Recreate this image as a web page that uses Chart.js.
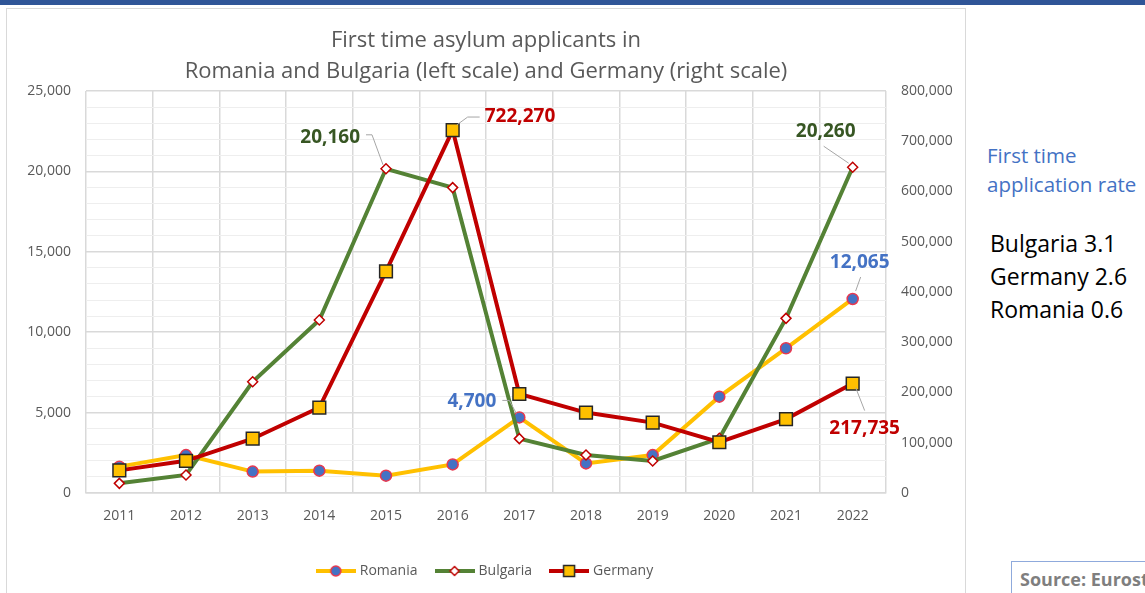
<!DOCTYPE html>
<html>
<head>
<meta charset="utf-8">
<title>First time asylum applicants</title>
<script src="https://cdn.jsdelivr.net/npm/chart.js@4/dist/chart.umd.min.js"></script>
<style>
  body { margin: 0; background: #fff; font-family: "Open Sans", sans-serif; overflow: hidden; }
  #topbar { position: absolute; left: 0; top: 0; width: 1145px; height: 5px; background: #2f5597; }
  #card { position: absolute; left: 6px; top: 8px; width: 958px; height: 600px; border: 1px solid #d9d9d9; background: #fff; }
  #card canvas { position: absolute; left: 0; top: 0; }
  .note { position: absolute; white-space: nowrap; }
  #rateTitle { left: 987px; top: 141px; color: #4472c4; font-size: 20.5px; line-height: 29px; }
  #rates { left: 990px; top: 227px; color: #000; font-size: 23px; line-height: 33px; }
  #source { position: absolute; left: 1011px; top: 561px; width: 170px; height: 40px; border: 1px solid #8faadc;
            color: #7f7f7f; font-weight: bold; font-size: 18px; line-height: 24px; padding: 5px 0 0 8px; box-sizing: border-box; }
</style>
</head>
<body>
<div id="topbar"></div>
<div id="card"><canvas id="asylum" width="958" height="600"></canvas></div>
<div class="note" id="rateTitle">First time<br>application rate</div>
<div class="note" id="rates">Bulgaria 3.1<br>Germany 2.6<br>Romania 0.6</div>
<div id="source">Source: Eurostat</div>

<script>
// first time asylum applicants per year
var years = ['2011', '2012', '2013', '2014', '2015', '2016', '2017', '2018', '2019', '2020', '2021', '2022'];
var romania = [1640, 2360, 1330, 1390, 1080, 1780, 4700, 1840, 2360, 5990, 9000, 12065];
var bulgaria = [600, 1120, 6920, 10760, 20160, 18990, 3380, 2360, 1990, 3400, 10860, 20260];
var germany = [45000, 64000, 108000, 170000, 441000, 722270, 197000, 160000, 140000, 101000, 147000, 217735];

// legend swatch: a short line with the marker on it
function swatch(lineColor, draw) {
  var c = document.createElement('canvas');
  c.width = 40;
  c.height = 16;
  var g = c.getContext('2d');
  g.strokeStyle = lineColor;
  g.lineWidth = 4;
  g.beginPath();
  g.moveTo(0, 8);
  g.lineTo(40, 8);
  g.stroke();
  draw(g);
  return c;
}

var romaniaKey = swatch('#ffc000', function (g) {
  g.beginPath();
  g.arc(20, 8, 5, 0, Math.PI * 2);
  g.fillStyle = '#4472c4';
  g.fill();
  g.lineWidth = 1.5;
  g.strokeStyle = '#e8384f';
  g.stroke();
});
var bulgariaKey = swatch('#548235', function (g) {
  g.beginPath();
  g.moveTo(20, 3.5);
  g.lineTo(24.5, 8);
  g.lineTo(20, 12.5);
  g.lineTo(15.5, 8);
  g.closePath();
  g.fillStyle = '#fff';
  g.fill();
  g.lineWidth = 1.5;
  g.strokeStyle = '#c00000';
  g.stroke();
});
var germanyKey = swatch('#c00000', function (g) {
  g.fillStyle = '#ffc000';
  g.fillRect(14.5, 2.5, 11, 11);
  g.lineWidth = 1.5;
  g.strokeStyle = '#262626';
  g.strokeRect(14.5, 2.5, 11, 11);
});

// value labels with grey leader lines, offsets relative to the point
var callouts = {
  id: 'callouts',
  afterDatasetsDraw: function (chart, args, opts) {
    var ctx = chart.ctx;
    opts.items.forEach(function (c) {
      var pt = chart.getDatasetMeta(c.dataset).data[c.index];
      var value = chart.data.datasets[c.dataset].data[c.index];
      ctx.save();
      ctx.strokeStyle = '#a6a6a6';
      ctx.lineWidth = 1;
      ctx.beginPath();
      c.leader.forEach(function (p, k) {
        if (k === 0) ctx.moveTo(pt.x + p[0], pt.y + p[1]);
        else ctx.lineTo(pt.x + p[0], pt.y + p[1]);
      });
      ctx.stroke();
      ctx.font = 'bold 19px "Open Sans"';
      ctx.fillStyle = c.color;
      ctx.textAlign = c.align;
      ctx.textBaseline = 'middle';
      ctx.fillText(value.toLocaleString('en-US'), pt.x + c.dx, pt.y + c.dy);
      ctx.restore();
    });
  }
};

Chart.defaults.font.family = '"Open Sans", sans-serif';
Chart.defaults.color = '#595959';

new Chart('asylum', {
  type: 'line',
  data: {
    labels: years,
    datasets: [
      {
        label: 'Romania',
        data: romania,
        yAxisID: 'y',
        order: 2,
        borderColor: '#ffc000',
        borderWidth: 4,
        pointStyle: 'circle',
        pointRadius: 5.5,
        pointBackgroundColor: '#4472c4',
        pointBorderColor: '#e8384f',
        pointBorderWidth: 1.5,
        legendKey: romaniaKey
      },
      {
        label: 'Bulgaria',
        data: bulgaria,
        yAxisID: 'y',
        order: 1,
        borderColor: '#548235',
        borderWidth: 4,
        pointStyle: 'rectRot',
        pointRadius: 5,
        pointBackgroundColor: '#fff',
        pointBorderColor: '#c00000',
        pointBorderWidth: 1.5,
        legendKey: bulgariaKey
      },
      {
        label: 'Germany',
        data: germany,
        yAxisID: 'y1',
        order: 0,
        borderColor: '#c00000',
        borderWidth: 4,
        pointStyle: 'rect',
        pointRadius: 9,
        pointBackgroundColor: '#ffc000',
        pointBorderColor: '#262626',
        pointBorderWidth: 1.5,
        legendKey: germanyKey
      }
    ]
  },
  options: {
    responsive: false,
    animation: false,
    layout: { padding: { left: 0, right: 0, top: 0, bottom: 21 } },
    scales: {
      x: {
        offset: true,
        grid: { offset: true, color: '#d9d9d9', lineWidth: 1.5, drawTicks: false },
        border: { color: '#d9d9d9', width: 1.5 },
        ticks: { padding: 15, font: { size: 14 } },
        afterFit: function (s) { s.height = 51; }
      },
      y: {
        position: 'left',
        min: 0,
        max: 25000,
        grid: {
          drawTicks: false,
          color: function (c) { return c.tick.value % 5000 === 0 ? '#d9d9d9' : '#eeeeee'; },
          lineWidth: function (c) { return c.tick.value % 5000 === 0 ? 1.5 : 1; }
        },
        border: { display: false },
        ticks: {
          stepSize: 1000,
          maxTicksLimit: 30,
          autoSkip: false,
          padding: 15,
          font: { size: 14 },
          callback: function (v) { return v % 5000 === 0 ? v.toLocaleString('en-US') : ''; }
        },
        afterFit: function (s) { s.width = 79; }
      },
      y1: {
        position: 'right',
        min: 0,
        max: 800000,
        grid: { drawOnChartArea: false, drawTicks: false },
        border: { display: false },
        ticks: {
          stepSize: 100000,
          padding: 15,
          font: { size: 14 },
          callback: function (v) { return v.toLocaleString('en-US'); }
        },
        afterFit: function (s) { s.width = 79; }
      }
    },
    plugins: {
      title: {
        display: true,
        text: ['First time asylum applicants in', 'Romania and Bulgaria (left scale) and Germany (right scale)'],
        color: '#595959',
        font: { size: 22, weight: 'normal', lineHeight: 1.413 },
        padding: { top: 16, bottom: 3.8 }
      },
      legend: {
        position: 'bottom',
        labels: {
          usePointStyle: true,
          pointStyleWidth: 34,
          padding: 20,
          color: '#595959',
          font: { size: 14 },
          sort: function (a, b) { return a.datasetIndex - b.datasetIndex; },
          generateLabels: function (chart) {
            return chart.data.datasets.map(function (ds, i) {
              return {
                text: ds.label,
                pointStyle: ds.legendKey,
                fillStyle: ds.borderColor,
                strokeStyle: ds.borderColor,
                lineWidth: 0,
                hidden: false,
                datasetIndex: i,
                fontColor: '#595959'
              };
            });
          }
        }
      },
      tooltip: { enabled: false },
      callouts: {
        items: [
          { dataset: 1, index: 4, color: '#375623', align: 'right', dx: -26, dy: -31,
            leader: [[-20, -34], [-14, -34], [-3, -4]] },
          { dataset: 2, index: 5, color: '#c00000', align: 'left', dx: 32, dy: -13,
            leader: [[4, -5], [15, -13], [27, -13]] },
          { dataset: 1, index: 11, color: '#375623', align: 'center', dx: -27, dy: -36,
            leader: [[-29, -21], [-4, -4]] },
          { dataset: 0, index: 11, color: '#4472c4', align: 'center', dx: 7, dy: -36,
            leader: [[8, -22], [3, -8]] },
          { dataset: 0, index: 6, color: '#4472c4', align: 'right', dx: -23, dy: -16,
            leader: [[-17, -17], [-10, -17], [-3, -4]] },
          { dataset: 2, index: 11, color: '#c00000', align: 'center', dx: 12, dy: 45,
            leader: [[3, 4], [12, 27]] }
        ]
      }
    }
  },
  plugins: [callouts]
});
</script>
</body>
</html>
